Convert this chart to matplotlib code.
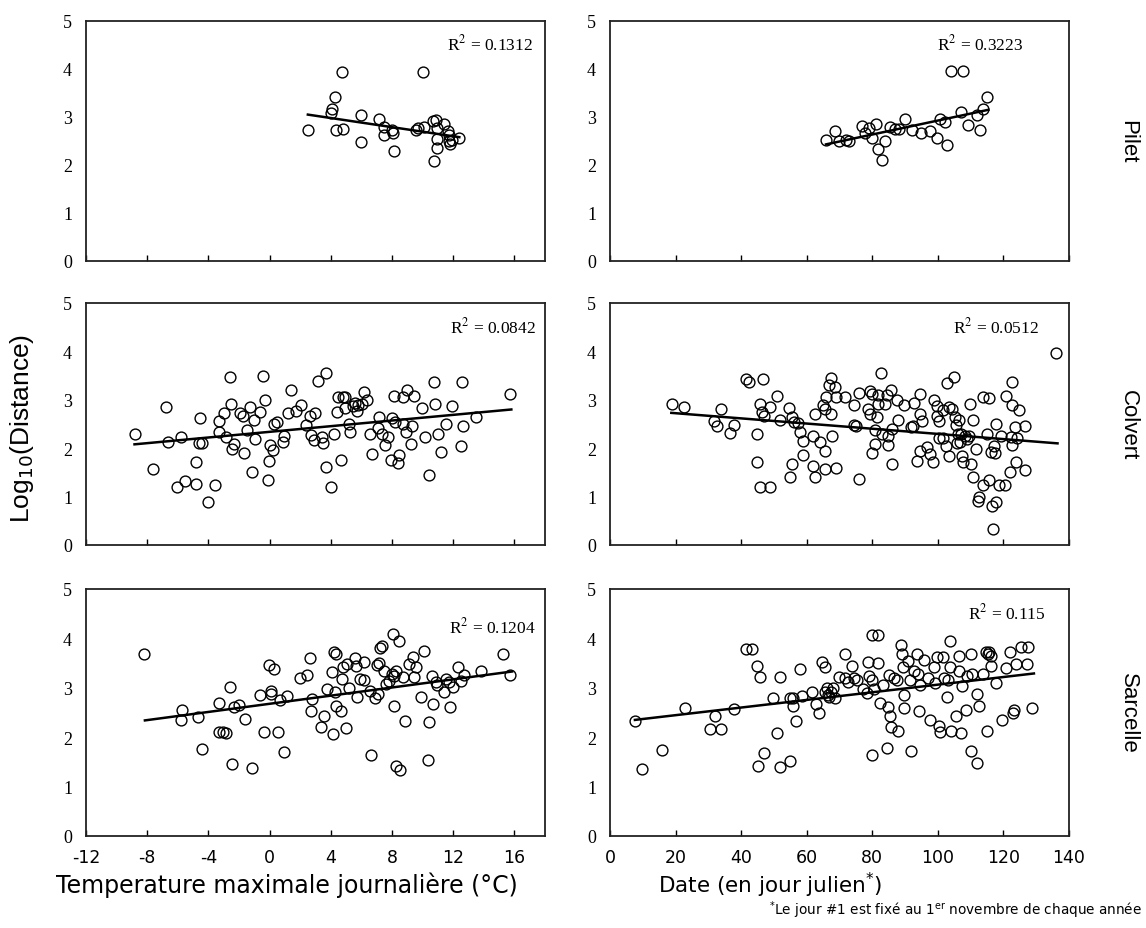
import numpy as np
import matplotlib
matplotlib.use('Agg')
import matplotlib.pyplot as plt

plt.rcParams['axes.unicode_minus'] = False

# --- Pilet ---
pil_t_x = [2.5, 4.02, 4.1, 4.27, 4.34, 4.76, 4.78, 6.0, 6.0, 7.16, 7.46, 7.5, 7.98, 8.05, 8.1,
           9.6, 9.72, 10.0, 10.07, 10.65, 10.9, 10.96, 10.96, 10.96, 10.77, 11.42, 11.66,
           11.75, 11.75, 11.82, 11.94, 12.4]
pil_t_y = [2.73, 3.09, 3.17, 3.41, 2.72, 3.93, 2.75, 3.04, 2.47, 2.95, 2.8, 2.63, 2.73, 2.66, 2.3,
           2.73, 2.77, 3.93, 2.79, 2.91, 2.93, 2.77, 2.54, 2.36, 2.09, 2.86, 2.70,
           2.63, 2.49, 2.44, 2.52, 2.56]
pil_d_x = [65.9, 68.6, 69.7, 72.0, 72.9, 76.9, 77.7, 78.9, 79.8, 81.1, 81.7, 82.9, 83.8, 85.4,
           86.9, 88.0, 89.9, 92.0, 94.9, 97.7, 99.8, 100.6, 102.1, 102.9, 104.0, 107.1, 107.8,
           109.1, 111.8, 112.9, 113.9, 115.1]
pil_d_y = [2.53, 2.71, 2.49, 2.53, 2.49, 2.81, 2.67, 2.78, 2.57, 2.86, 2.33, 2.11, 2.51, 2.79,
           2.74, 2.76, 2.95, 2.73, 2.67, 2.71, 2.57, 2.95, 2.9, 2.42, 3.96, 3.11, 3.96,
           2.83, 3.04, 2.73, 3.17, 3.42]

# --- Colvert ---
col_t_x = [-8.83, -7.62, -6.8, -6.64, -6.06, -5.8, -5.52, -4.82, -4.82, -4.59, -4.54, -4.42, -4.05,
           -3.56, -3.3, -3.28, -2.96, -2.82, -2.6, -2.54, -2.44, -2.3, -1.95, -1.72, -1.65, -1.49,
           -1.28, -1.14, -1.02, -0.93, -0.62, -0.44, -0.28, -0.11, -0.04, 0.03, 0.19, 0.31, 0.49,
           0.89, 0.96, 1.19, 1.43, 1.71, 2.06, 2.41, 2.64, 2.69, 2.87, 2.97, 3.17, 3.45, 3.52,
           3.69, 3.71, 4.04, 4.2, 4.39, 4.5, 4.69, 4.78, 4.9, 4.92, 5.2, 5.24, 5.44, 5.55, 5.72,
           5.79, 6.02, 6.18, 6.37, 6.55, 6.69, 7.11, 7.18, 7.35, 7.53, 7.77, 7.93, 8.0, 8.14,
           8.19, 8.42, 8.47, 8.7, 8.72, 8.89, 8.98, 9.24, 9.28, 9.44, 9.98, 10.17, 10.4, 10.73,
           10.84, 11.03, 11.22, 11.5, 11.89, 12.48, 12.55, 12.66, 13.52, 15.74]
col_t_y = [2.30, 1.57, 2.85, 2.13, 1.20, 2.23, 1.33, 1.71, 1.26, 2.11, 2.62, 2.11, 0.88,
           1.23, 2.56, 2.33, 2.73, 2.23, 3.48, 2.92, 1.99, 2.09, 2.73, 2.67, 1.9, 2.37,
           2.85, 1.5, 2.59, 2.2, 2.75, 3.49, 2.99, 1.35, 1.73, 2.06, 1.97, 2.51, 2.54,
           2.13, 2.26, 2.73, 3.2, 2.77, 2.89, 2.47, 2.66, 2.28, 2.16, 2.73, 3.39, 2.24, 2.1,
           3.56, 1.61, 1.2, 2.3, 2.75, 3.05, 1.76, 3.06, 2.84, 3.06, 2.49, 2.33, 2.87, 2.94, 2.77,
           2.89, 2.91, 3.16, 2.99, 2.29, 1.87, 2.42, 2.65, 2.3, 2.06, 2.23, 1.75, 2.62, 3.07,
           2.54, 1.69, 1.85, 2.51, 3.05, 2.33, 3.21, 2.09, 2.45, 3.07, 2.83, 2.23, 1.45, 3.37,
           2.91, 2.29, 1.92, 2.51, 2.87, 2.04, 3.37, 2.45, 2.65, 3.13]
col_d_x = [18.9, 22.7, 31.8, 32.7, 33.8, 36.5, 37.8, 41.6, 42.5, 44.8, 44.8, 45.9, 45.9, 46.5, 46.7,
           47.1, 48.8, 48.8, 51.0, 51.8, 54.7, 55.0, 55.4, 55.6, 56.2, 57.3, 58.1, 58.8, 58.8,
           61.8, 61.9, 62.4, 62.6, 63.9, 64.9, 65.6, 65.6, 65.6, 66.0, 66.7, 67.5, 67.5, 67.7,
           68.6, 68.9, 68.9, 71.8, 74.5, 74.5, 74.9, 75.8, 75.8, 78.8, 79.2, 79.4, 79.8, 80.0,
           80.8, 80.8, 81.5, 81.7, 81.7, 82.8, 83.0, 83.9, 84.5, 84.7, 84.9, 85.6, 85.9, 86.0,
           87.6, 87.9, 89.8, 91.7, 92.5, 92.8, 93.6, 94.7, 94.7, 94.7, 95.1, 96.6, 97.6, 98.5,
           98.7, 99.6, 99.6, 100.4, 100.4, 101.5, 101.5, 102.4, 102.7, 103.3, 103.5, 104.4,
           104.9, 105.3, 105.5, 105.7, 106.1, 106.6, 106.9, 107.2, 107.5, 107.8, 108.3, 108.9,
           109.5, 109.8, 110.0, 110.6, 110.6, 111.7, 112.1, 112.5, 113.7, 113.8, 115.1, 115.7,
           115.7, 116.3, 116.6, 116.8, 117.1, 117.4, 117.7, 117.7, 118.5, 119.3, 120.6, 120.8,
           121.9, 122.3, 122.5, 122.5, 122.7, 123.6, 123.9, 124.2, 124.8, 126.5, 126.5, 135.9]
col_d_y = [2.91, 2.85, 2.56, 2.45, 2.81, 2.31, 2.47, 3.43, 3.37, 2.29, 1.72, 2.92, 1.2, 2.75, 3.42,
           2.66, 2.85, 1.2, 3.07, 2.59, 2.84, 1.41, 2.65, 1.68, 2.54, 2.52, 2.33, 2.15, 1.85,
           2.26, 1.64, 2.7, 1.4, 2.13, 2.89, 2.8, 1.94, 1.57, 3.06, 3.3, 3.46, 2.7, 2.26,
           3.27, 3.06, 1.59, 3.05, 2.89, 2.47, 2.45, 3.14, 1.36, 2.8, 2.71, 3.19, 1.9, 3.13,
           2.38, 2.09, 2.65, 2.92, 3.1, 3.56, 2.3, 2.92, 3.1, 2.26, 2.06, 3.2, 1.68, 2.4,
           3.0, 2.58, 2.89, 2.44, 2.45, 2.94, 1.73, 3.12, 2.71, 1.94, 2.56, 2.02, 1.87, 1.71,
           3.0, 2.87, 2.66, 2.56, 2.22, 2.78, 2.22, 2.04, 3.34, 2.85, 1.83, 2.82,
           3.48, 2.65, 2.47, 2.11, 2.3, 2.59, 2.13, 2.3, 1.83, 1.71, 2.26, 2.2,
           2.26, 2.92, 1.68, 2.59, 1.4, 1.99, 0.91, 1.0, 1.23, 3.06, 2.29, 3.03,
           1.34, 1.92, 0.81, 0.33, 2.04, 1.9, 0.88, 2.51, 1.25, 2.26, 1.23, 3.07,
           1.5, 2.24, 2.06, 3.37, 2.89, 2.44, 1.71, 2.22, 2.78, 2.45, 1.55, 3.96]

# --- Sarcelle ---
sar_t_x = [-8.22, -5.82, -5.75, -4.7, -4.42, -3.33, -3.3, -3.03, -2.84, -2.56, -2.49, -2.33, -1.98,
           -1.63, -1.14, -0.65, -0.34, -0.07, 0.07, 0.12, 0.31, 0.52, 0.66, 0.94, 1.12, 1.99,
           2.45, 2.64, 2.69, 2.8, 3.38, 3.55, 3.73, 4.08, 4.13, 4.2, 4.27, 4.32, 4.32, 4.67,
           4.74, 4.78, 5.02, 5.06, 5.2, 5.6, 5.65, 5.72, 5.9, 6.14, 6.18, 6.53, 6.65, 6.88,
           7.0, 7.07, 7.16, 7.24, 7.35, 7.46, 7.58, 7.81, 8.0, 8.05, 8.1, 8.16, 8.23, 8.28,
           8.47, 8.51, 8.75, 8.82, 9.1, 9.4, 9.45, 9.56, 9.91, 10.1, 10.33, 10.42, 10.61,
           10.68, 10.89, 10.96, 11.43, 11.5, 11.73, 11.78, 11.96, 12.29, 12.48, 12.71, 13.83,
           15.23, 15.74]
sar_t_y = [3.69, 2.34, 2.56, 2.41, 1.77, 2.7, 2.11, 2.11, 2.09, 3.02, 1.46, 2.61, 2.66,
           2.36, 1.37, 2.86, 2.11, 3.46, 2.88, 2.93, 3.39, 2.11, 2.76, 1.7, 2.84, 3.2,
           3.26, 3.61, 2.54, 2.78, 2.21, 2.42, 2.98, 3.31, 2.06, 3.73, 2.91, 3.69, 2.64, 2.54,
           3.18, 3.42, 2.18, 3.48, 3.0, 3.6, 3.44, 2.81, 3.18, 3.53, 3.16, 2.93, 1.64, 2.79,
           3.46, 2.88, 3.51, 3.81, 3.84, 3.34, 3.08, 3.14, 3.28, 4.09, 3.24, 2.64, 3.33, 1.41,
           3.95, 1.34, 3.21, 2.33, 3.49, 3.62, 3.22, 3.42, 2.82, 3.75, 1.53, 2.31, 3.24,
           2.68, 3.11, 3.06, 2.91, 3.18, 3.11, 2.61, 3.02, 3.42, 3.13, 3.26, 3.34,
           3.69, 3.26]
sar_d_x = [7.6, 9.9, 15.9, 23.0, 30.6, 32.1, 33.8, 37.8, 41.6, 43.4, 44.8, 45.0, 45.7, 46.9, 49.6,
           50.8, 51.8, 51.8, 54.8, 54.8, 55.9, 55.9, 56.7, 57.9, 58.6, 61.6, 62.7, 63.7, 64.7,
           65.5, 65.5, 66.1, 66.4, 66.9, 67.5, 68.1, 68.6, 69.8, 71.8, 71.8, 72.6, 73.7, 74.3,
           75.4, 77.1, 78.3, 78.6, 79.1, 79.8, 79.8, 80.0, 80.5, 81.7, 81.7, 82.5, 83.4, 84.5,
           84.7, 85.1, 85.4, 85.6, 86.6, 87.4, 87.7, 88.8, 89.1, 89.3, 89.6, 89.6, 90.8, 91.6,
           91.9, 92.7, 93.6, 93.8, 94.2, 94.7, 95.9, 97.0, 97.6, 98.7, 99.0, 99.8, 100.4, 100.6,
           101.5, 101.8, 102.7, 103.2, 103.6, 103.8, 104.0, 105.5, 106.6, 106.6, 107.0, 107.4,
           108.6, 108.9, 110.0, 110.0, 110.4, 112.0, 112.0, 112.6, 113.8, 114.6, 114.9, 115.4,
           115.7, 116.3, 116.1, 117.6, 119.7, 120.8, 122.0, 122.9, 123.3, 123.7, 125.4, 127.1,
           127.6, 128.8]
sar_d_y = [2.33, 1.35, 1.75, 2.6, 2.17, 2.42, 2.17, 2.57, 3.79, 3.79, 3.45, 1.42, 3.22, 1.69, 2.79,
           2.09, 3.22, 1.39, 2.79, 1.52, 2.79, 2.64, 2.33, 3.39, 2.84, 2.92, 2.67, 2.49, 3.52,
           3.42, 2.91, 2.99, 2.85, 2.82, 2.91, 2.99, 2.8, 3.22, 3.69, 3.2, 3.12, 3.45, 3.2,
           3.15, 2.97, 2.89, 3.52, 3.24, 4.07, 3.15, 1.64, 2.97, 4.07, 3.51, 2.69, 3.05, 1.79,
           2.62, 3.25, 2.42, 2.2, 3.2, 3.15, 2.13, 3.87, 3.69, 3.42, 2.85, 2.59, 3.55, 3.15,
           1.73, 3.35, 3.69, 3.27, 2.53, 3.05, 3.57, 3.2, 2.35, 3.42, 3.09, 3.62, 2.22, 2.11,
           3.62, 3.2, 2.82, 3.15, 3.95, 3.42, 2.13, 2.42, 3.65, 3.35, 2.09, 3.04,
           2.55, 3.24, 3.69, 1.72, 3.27, 2.87, 1.47, 2.64, 3.27, 3.72, 2.12, 3.69,
           3.72, 3.65, 3.44, 3.09, 2.35, 3.4, 3.72, 2.49, 2.55, 3.49, 3.82, 3.49,
           3.82, 2.6]

# trend lines: ([x0, x1], [y0, y1])
trend = {
    'pil_t': ([2.5, 12.4], [3.05, 2.58]), 'pil_d': ([65.9, 115.4], [2.43, 3.15]),
    'col_t': ([-8.83, 15.8], [2.08, 2.80]), 'col_d': ([18.7, 136.5], [2.73, 2.10]),
    'sar_t': ([-8.15, 15.85], [2.34, 3.33]), 'sar_d': ([7.6, 129.3], [2.35, 3.29]),
}
r2 = {'pil_t': '0.1312', 'pil_d': '0.3223', 'col_t': '0.0842',
      'col_d': '0.0512', 'sar_t': '0.1204', 'sar_d': '0.115'}
species = ['Pilet', 'Colvert', 'Sarcelle']
temp_ticks = [-12, -8, -4, 0, 4, 8, 12, 16]
date_ticks = [0, 20, 40, 60, 80, 100, 120, 140]

data = {
    'pil_t': (pil_t_x, pil_t_y), 'pil_d': (pil_d_x, pil_d_y),
    'col_t': (col_t_x, col_t_y), 'col_d': (col_d_x, col_d_y),
    'sar_t': (sar_t_x, sar_t_y), 'sar_d': (sar_d_x, sar_d_y),
}

fig = plt.figure(figsize=(11.46, 9.29), dpi=100)
W, H = 1146., 929.
rows = [(22, 262), (304, 546), (590, 837)]
cols = [(86, 545), (610, 1069)]
r2pos = {'pil_t': (0.975, 0.905), 'pil_d': (0.90, 0.905),
         'col_t': (0.98, 0.905), 'col_d': (0.935, 0.905),
         'sar_t': (0.98, 0.85), 'sar_d': (0.95, 0.905)}

keys = [['pil_t', 'pil_d'], ['col_t', 'col_d'], ['sar_t', 'sar_d']]
for i, (top, bot) in enumerate(rows):
    for j, (left, right) in enumerate(cols):
        k = keys[i][j]
        ax = fig.add_axes([left / W, 1 - bot / H, (right - left) / W, (bot - top) / H])
        x, y = data[k]
        ax.plot(x, y, 'o', mfc='none', mec='black', ms=7.8, mew=1.0)
        lx, ly = trend[k]
        ax.plot(lx, ly, color='black', lw=1.8)
        ax.set_ylim(0, 5)
        ax.set_yticks([0, 1, 2, 3, 4, 5])
        if j == 0:
            ax.set_xlim(-12, 18)
            ax.set_xticks(temp_ticks)
        else:
            ax.set_xlim(0, 140)
            ax.set_xticks(date_ticks)
        ax.tick_params(axis='y', length=0, pad=10)
        ax.tick_params(axis='x', direction='in', length=4, width=1, pad=9)
        for lab in ax.get_yticklabels():
            lab.set_fontfamily('Liberation Serif')
            lab.set_fontsize(13)
        if i < 2:
            ax.set_xticklabels([])
        else:
            for lab in ax.get_xticklabels():
                lab.set_fontfamily('DejaVu Sans')
                lab.set_fontsize(12.5)
        for s in ax.spines.values():
            s.set_linewidth(1.3)
            s.set_color('#222222')
        px, py = r2pos[k]
        ax.text(px, py, 'R$^2$ = ' + r2[k], transform=ax.transAxes, ha='right', va='center',
                fontfamily='Liberation Serif', fontsize=12.5, math_fontfamily='stix')
        if j == 1:
            fig.text(1128 / W, 1 - (top + bot) / 2 / H, species[i], rotation=-90,
                     ha='center', va='center', fontsize=16, fontfamily='Liberation Sans')

fig.text(22 / W, 1 - 428 / H, 'Log$_{10}$(Distance)', rotation=90, ha='center', va='center',
         fontsize=19, fontfamily='Liberation Sans')
fig.text(287 / W, 1 - 885 / H, 'Temperature maximale journalière (°C)', ha='center', va='center',
         fontsize=17, fontfamily='DejaVu Sans')
fig.text(770 / W, 1 - 885 / H, 'Date (en jour julien$^{*}$)', ha='center', va='center',
         fontsize=15.5, fontfamily='DejaVu Sans')
fig.text(1142 / W, 1 - 910 / H, '$^{*}$Le jour #1 est fixé au 1$^{\\mathrm{er}}$ novembre de chaque année',
         ha='right', va='center', fontsize=9.8, fontfamily='DejaVu Sans')

fig.savefig('out.png', dpi=100)
